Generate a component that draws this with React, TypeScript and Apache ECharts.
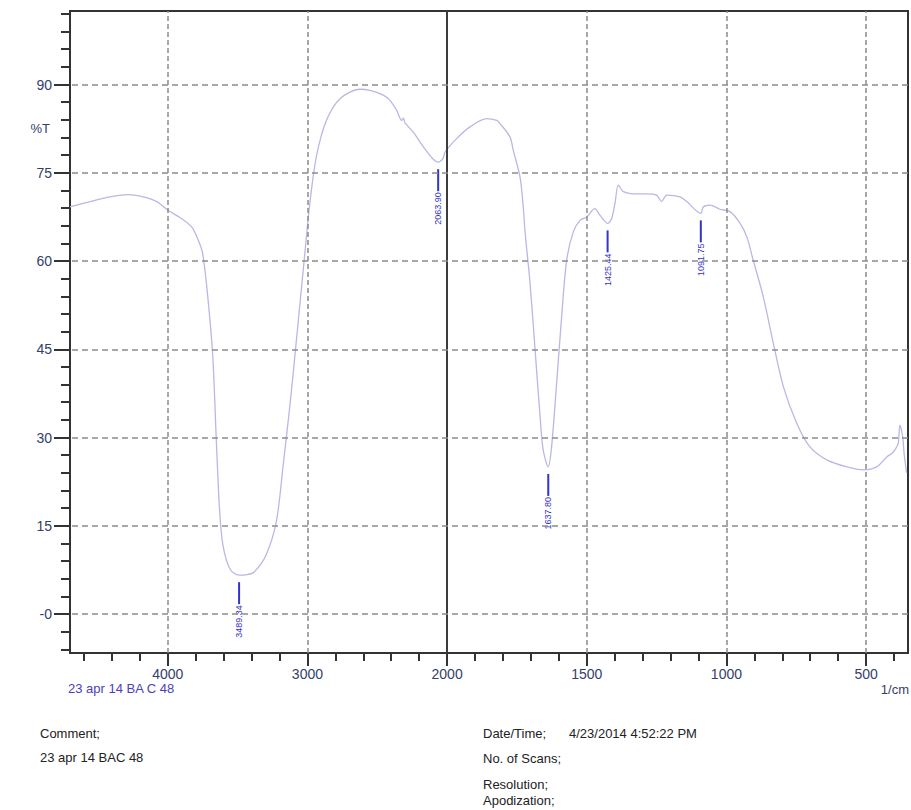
import React, { useEffect, useRef } from "react";
import * as echarts from "echarts";

// Spectrum (wavenumber in 1/cm, transmittance in %T)
const wavenumbers = [
  4700, 4557, 4414, 4283, 4175, 4079, 3996, 3900, 3829, 3790, 3752, 3716, 3678, 3653, 3629, 3605,
  3554, 3489, 3430, 3383, 3297, 3222, 3173, 3123, 3075, 3025, 2982, 2934, 2862, 2767, 2624, 2552,
  2457, 2409, 2361, 2325, 2313, 2301, 2242, 2170, 2099, 2064, 2030, 2015, 1966, 1918, 1858, 1822,
  1811, 1775, 1763, 1739, 1728, 1721, 1703, 1685, 1667, 1656, 1638, 1626, 1608, 1590, 1572, 1548,
  1524, 1500, 1471, 1453, 1425, 1411, 1399, 1387, 1369, 1321, 1285, 1250, 1232, 1214, 1166, 1142,
  1092, 1083, 1059, 1023, 987, 951, 927, 904, 868, 832, 796, 748, 701, 641, 569, 510,
  462, 426, 408, 397, 385, 379, 369, 364, 355,
];
const transmittance = [
  69.2, 70.1, 70.9, 71.3, 70.9, 70.1, 68.6, 67.2, 65.8, 64.0, 61.5, 54.5, 43.9, 29.9, 17.6, 11.7,
  7.6, 6.6, 6.7, 7.1, 10.0, 15.8, 25.5, 36.0, 47.5, 59.7, 70.0, 78.0, 84.0, 87.6, 89.2, 89.0,
  88.2, 87.3, 85.6, 83.9, 84.3, 83.5, 81.9, 79.4, 77.3, 76.8, 77.4, 78.5, 80.8, 82.8, 84.2, 83.9,
  83.4, 81.1, 78.8, 74.3, 69.5, 65.0, 56.2, 44.9, 33.5, 27.9, 25.0, 28.4, 39.2, 50.5, 60.1, 65.0,
  66.9, 67.5, 68.9, 67.8, 66.4, 67.2, 69.8, 72.9, 71.8, 71.4, 71.4, 71.2, 70.1, 71.2, 70.9, 70.1,
  68.1, 69.2, 69.5, 68.8, 68.4, 66.4, 64.1, 60.1, 53.9, 46.0, 38.6, 32.4, 28.4, 26.2, 25.0, 24.5,
  25.0, 26.7, 27.3, 27.9, 29.0, 32.1, 30.1, 27.3, 24.0,
];

// Peak picks
const peakWavenumbers = [3489.34, 2063.9, 1637.8, 1425.44, 1091.75];
const peakTransmittance = [6.6, 76.8, 25.0, 66.4, 68.1];
const peakLabels = ["3489.34", "2063.90", "1637.80", "1425.44", "1091.75"];

// Axis ticks
const xMajorTicks = [4000, 3000, 2000, 1500, 1000, 500];
const xMinorTicks = [
  4600, 4400, 4200, 3800, 3600, 3400, 3200, 2800, 2600, 2400, 2200,
  1900, 1800, 1700, 1600, 1400, 1300, 1200, 1100, 900, 800, 700, 600, 400,
];
const yMajorTicks = [0, 15, 30, 45, 60, 75, 90];
const yMinorTicks = [-6, -3, 3, 6, 9, 12, 18, 21, 24, 27, 33, 36, 39, 42, 48, 51, 54, 57, 63, 66, 69, 72, 78, 81, 84, 87, 93, 96, 99, 102];

const xRange = [350, 4700];
const yRange = [-6.63, 102.5];

// Shimadzu-style scale: expanded by 2x below 2000 1/cm
const toAxis = (w: number) => (w > 2000 ? 2000 + (w - 2000) / 2 : w);
const fromAxis = (u: number) => (u > 2000 ? 2000 + (u - 2000) * 2 : u);

const FONT = "'Liberation Sans', Arial, sans-serif";
const TICK_COLOR = "#34406a";
const PEAK_COLOR = "#3434c8";

export default function App() {
  const ref = useRef<HTMLDivElement>(null);

  useEffect(() => {
    document.body.style.margin = "0";
    if (!ref.current) return;
    const chart = echarts.init(ref.current, undefined, { renderer: "svg" });

    const spectrum = wavenumbers.map((w, i) => [toAxis(w), transmittance[i]]);
    const peaks = peakWavenumbers.map((w, i) => [toAxis(w), peakTransmittance[i]]);

    const xBase = {
      type: "value" as const,
      min: toAxis(xRange[0]),
      max: toAxis(xRange[1]),
      inverse: true,
      position: "bottom" as const,
      splitLine: { show: false },
    };
    const yBase = {
      type: "value" as const,
      min: yRange[0],
      max: yRange[1],
      position: "left" as const,
      splitLine: { show: false },
    };

    const dashedGray = { type: [6, 4] as number[], color: "#8c8c8c", width: 1.5 };
    const vDashed = { type: [5, 3] as number[], color: "#8c8c8c", width: 1.5 };

    const markLines: any[] = [];
    xMajorTicks.forEach((w) => {
      if (w === 2000) {
        markLines.push({ xAxis: toAxis(w), lineStyle: { type: "solid", color: "#3c3c3c", width: 2 } });
      } else {
        markLines.push({ xAxis: toAxis(w), lineStyle: vDashed });
      }
    });
    yMajorTicks.forEach((v) => markLines.push({ yAxis: v, lineStyle: dashedGray }));

    chart.setOption({
      animation: false,
      backgroundColor: "#ffffff",
      grid: {
        left: 70,
        top: 11,
        width: 838,
        height: 642,
        show: true,
        borderColor: "#333333",
        borderWidth: 2,
        backgroundColor: "transparent",
      },
      xAxis: [
        {
          ...xBase,
          axisLine: { show: true, onZero: false, lineStyle: { color: "#333333", width: 2 } },
          axisTick: { show: true, customValues: xMinorTicks.map(toAxis), length: 8, lineStyle: { color: "#333333", width: 2 } },
          axisLabel: { show: false },
        },
        {
          ...xBase,
          axisLine: { show: false, onZero: false },
          axisTick: { show: true, customValues: xMajorTicks.map(toAxis), length: 13, lineStyle: { color: "#333333", width: 2 } },
          axisLabel: {
            show: true,
            customValues: xMajorTicks.map(toAxis),
            formatter: (u: number) => String(Math.round(fromAxis(u))),
            color: TICK_COLOR,
            fontSize: 14,
            fontFamily: FONT,
            margin: 14,
          },
        },
      ],
      yAxis: [
        {
          ...yBase,
          axisLine: { show: true, onZero: false, lineStyle: { color: "#333333", width: 2 } },
          axisTick: { show: true, customValues: yMinorTicks, length: 9, lineStyle: { color: "#333333", width: 2 } },
          axisLabel: { show: false },
        },
        {
          ...yBase,
          axisLine: { show: false, onZero: false },
          axisTick: { show: true, customValues: yMajorTicks, length: 16, lineStyle: { color: "#333333", width: 2 } },
          axisLabel: {
            show: true,
            customValues: yMajorTicks,
            formatter: (v: number) => (v === 0 ? "-0" : String(v)),
            color: TICK_COLOR,
            fontSize: 14,
            fontFamily: FONT,
            margin: 18,
          },
        },
      ],
      graphic: [
        { type: "text", x: 50, y: 128, style: { text: "%T", align: "right", verticalAlign: "middle", fill: TICK_COLOR, fontSize: 13, fontFamily: FONT } },
        { type: "text", x: 68, y: 688, style: { text: "23 apr 14 BA C 48", align: "left", verticalAlign: "middle", fill: "#4a40c0", fontSize: 13, fontFamily: FONT } },
        { type: "text", x: 909, y: 689, style: { text: "1/cm", align: "right", verticalAlign: "middle", fill: TICK_COLOR, fontSize: 13, fontFamily: FONT } },
        { type: "text", x: 40, y: 733, style: { text: "Comment;", align: "left", verticalAlign: "middle", fill: "#222222", fontSize: 13, fontFamily: FONT } },
        { type: "text", x: 40, y: 757, style: { text: "23 apr 14 BAC 48", align: "left", verticalAlign: "middle", fill: "#222222", fontSize: 13, fontFamily: FONT } },
        { type: "text", x: 483, y: 733, style: { text: "Date/Time;", align: "left", verticalAlign: "middle", fill: "#222222", fontSize: 13, fontFamily: FONT } },
        { type: "text", x: 569, y: 733, style: { text: "4/23/2014 4:52:22 PM", align: "left", verticalAlign: "middle", fill: "#222222", fontSize: 13, fontFamily: FONT } },
        { type: "text", x: 483, y: 758, style: { text: "No. of Scans;", align: "left", verticalAlign: "middle", fill: "#222222", fontSize: 13, fontFamily: FONT } },
        { type: "text", x: 483, y: 784, style: { text: "Resolution;", align: "left", verticalAlign: "middle", fill: "#222222", fontSize: 13, fontFamily: FONT } },
        { type: "text", x: 483, y: 800, style: { text: "Apodization;", align: "left", verticalAlign: "middle", fill: "#222222", fontSize: 13, fontFamily: FONT } },
      ],
      series: [
        {
          type: "line",
          xAxisIndex: 0,
          yAxisIndex: 0,
          data: spectrum,
          showSymbol: false,
          smooth: 0.3,
          lineStyle: { color: "#b8b8e4", width: 1.3 },
          markLine: {
            silent: true,
            symbol: ["none", "none"],
            label: { show: false },
            data: markLines,
          },
          z: 3,
        },
        {
          type: "custom",
          xAxisIndex: 0,
          yAxisIndex: 0,
          data: peaks,
          z: 4,
          renderItem: (params: any, api: any) => {
            const p = api.coord([api.value(0), api.value(1)]);
            return {
              type: "group",
              children: [
                {
                  type: "line",
                  shape: { x1: p[0], y1: p[1] + 7, x2: p[0], y2: p[1] + 29 },
                  style: { stroke: PEAK_COLOR, lineWidth: 2 },
                },
                {
                  type: "text",
                  x: p[0],
                  y: p[1] + 30,
                  rotation: Math.PI / 2,
                  style: {
                    text: peakLabels[params.dataIndex],
                    align: "right",
                    verticalAlign: "middle",
                    fill: PEAK_COLOR,
                    fontSize: 9,
                    fontFamily: FONT,
                  },
                },
              ],
            };
          },
        },
      ],
    });

    return () => chart.dispose();
  }, []);

  return <div ref={ref} style={{ width: 911, height: 810 }} />;
}
